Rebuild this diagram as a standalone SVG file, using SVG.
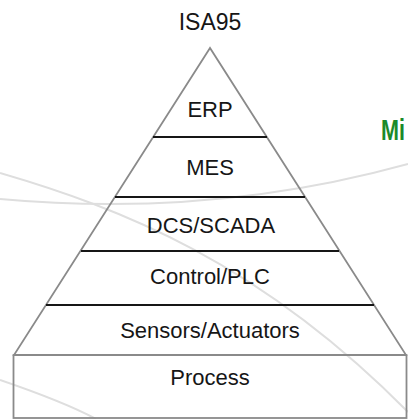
<svg xmlns="http://www.w3.org/2000/svg" width="408" height="419" viewBox="0 0 408 419">
  <style>
    .label { font-family: "Liberation Sans", Arial, Helvetica, sans-serif; font-size: 22px; fill: #161616; text-anchor: middle; }
    .title { font-size: 23px; }
    .edge { fill: none; stroke: #8a8a8a; stroke-width: 1.8; stroke-linejoin: miter; }
    .divider { stroke: #161616; stroke-width: 2; }
    .swoosh { fill: none; stroke: #dedede; stroke-width: 2; }
    .brand { font-family: "Liberation Sans", Arial, sans-serif; font-size: 30px; font-weight: bold; fill: #1b8a2a; }
  </style>

  <rect x="0" y="0" width="408" height="419" fill="#ffffff"/>

  <!-- decorative background swooshes -->
  <g id="background">
    <path class="swoosh" d="M0,173 C120,208 260,262 408,412"/>
    <path class="swoosh" d="M0,199 C120,210 260,205 408,164"/>
    <path class="swoosh" d="M0,380 C35,392 70,405 96,419"/>
    <text class="brand" transform="translate(381,140) scale(0.72,1)">Mi</text>
  </g>

  <!-- pyramid outline -->
  <g id="pyramid">
    <path class="edge" d="M210,48 L14,355 L406,355 Z"/>
  </g>

  <!-- layer boundaries -->
  <g id="connectors">
    <line class="divider" x1="153" y1="137" x2="267" y2="137"/>
    <line class="divider" x1="115" y1="197" x2="305" y2="197"/>
    <line class="divider" x1="81" y1="251" x2="339" y2="251"/>
    <line class="divider" x1="46" y1="305" x2="374" y2="305"/>
  </g>

  <g id="title">
    <text class="label title" x="210" y="30">ISA95</text>
  </g>

  <g id="erp">
    <text class="label" x="210" y="117">ERP</text>
  </g>
  <g id="mes">
    <text class="label" x="210" y="175">MES</text>
  </g>
  <g id="dcs-scada">
    <text class="label" x="211" y="233">DCS/SCADA</text>
  </g>
  <g id="control-plc">
    <text class="label" x="210" y="284">Control/PLC</text>
  </g>
  <g id="sensors-actuators">
    <text class="label" x="210" y="338">Sensors/Actuators</text>
  </g>
  <g id="process">
    <rect class="edge" x="13.5" y="355" width="393" height="63" stroke-width="2"/>
    <text class="label" x="210" y="385">Process</text>
  </g>
</svg>
